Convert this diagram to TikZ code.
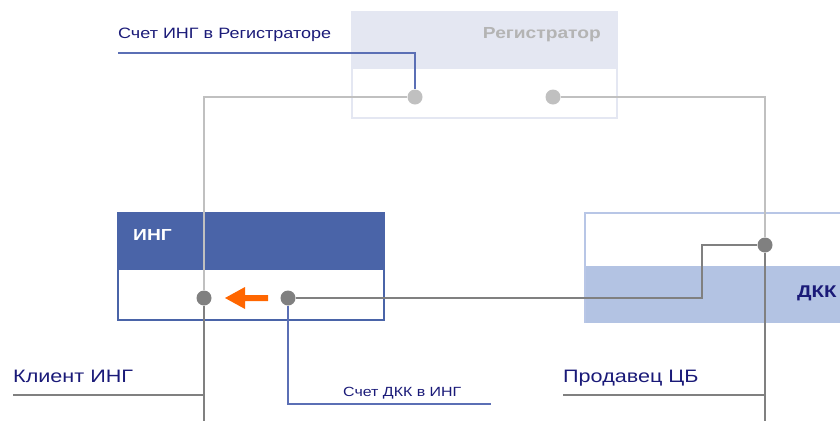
\documentclass[tikz,border=0pt]{standalone}
\usepackage{fontspec}
\setmainfont{Liberation Sans}[FakeStretch=1.2]
\definecolor{navy}{HTML}{1A1A78}
\definecolor{bline}{HTML}{5B6FB5}
\definecolor{ingblue}{HTML}{4A64A8}
\definecolor{dkkfill}{HTML}{B3C3E3}
\definecolor{dkkline}{HTML}{B8C6E6}
\definecolor{reghead}{HTML}{E4E7F2}
\definecolor{regtext}{HTML}{B4B4B4}
\definecolor{lgray}{HTML}{C0C0C0}
\definecolor{dgray}{HTML}{808080}
\definecolor{orng}{HTML}{FF6600}
\begin{document}
\begin{tikzpicture}[x=1pt,y=-1pt,
  ldot/.style={circle,fill=lgray,inner sep=0,minimum size=15pt},
  ddot/.style={circle,fill=dgray,inner sep=0,minimum size=15pt},
  lwire/.style={draw=lgray,line width=2.8pt},
  dwire/.style={draw=dgray,line width=2.8pt},
  bwire/.style={draw=bline,line width=1.6pt},
  lbl/.style={anchor=base west,inner sep=0,text=navy},
]
\useasboundingbox (0,0) rectangle (840,421);
% Registrator box
\fill[reghead] (352,12) rectangle (617,69);
\draw[reghead,line width=1.5pt] (352,12) rectangle (617,118);
\node[anchor=base east,inner sep=0,text=regtext,font=\fontsize{16}{19}\selectfont\bfseries] (regt) at (601,38) {Регистратор};
% ING box
\fill[ingblue] (118,213) rectangle (384,270);
\draw[ingblue,line width=1.5pt] (118,213) rectangle (384,320);
\node[anchor=base west,inner sep=0,text=white,font=\fontsize{16}{19}\selectfont\bfseries] (ingt) at (133,240) {ИНГ};
% DKK box
\fill[dkkfill] (585,266) rectangle (842,323);
\draw[dkkline,line width=1.5pt] (842,213) -- (585,213) -- (585,323);
\node[anchor=base west,inner sep=0,text=navy,font=\fontsize{17}{20}\selectfont\bfseries] (dkkt) at (797,297) {ДКК};
% dots
\node[ldot] (r1) at (415,97) {};
\node[ldot] (r2) at (553,97) {};
\node[ddot] (i1) at (204,298) {};
\node[ddot] (i2) at (288,298) {};
\node[ddot] (d1) at (765,245) {};
\coordinate (bend) at (702,270);
\coordinate (i1b) at (204,421);
\coordinate (d1b) at (765,421);
% labels
\node[lbl,font=\fontsize{15}{18}\selectfont] (l1) at (118,38) {Счет ИНГ в Регистраторе};
\node[lbl,font=\fontsize{18}{21}\selectfont] (l2) at (13,382) {Клиент ИНГ};
\node[lbl,font=\fontsize{18}{21}\selectfont] (l3) at (563,382) {Продавец ЦБ};
\node[lbl,font=\fontsize{13.3}{16}\selectfont] (l4) at (343,396) {Счет ДКК в ИНГ};
\coordinate (l1a) at (118,53);
\coordinate (l2a) at (13,395);
\coordinate (l3a) at (563,395);
\coordinate (l4a) at (491,404);
% wires
\draw[lwire] (r1) -| (i1);
\draw[lwire] (r2) -| (d1);
\draw[dwire] (i2) -| (bend) |- (d1);
\draw[dwire] (i1) -- (i1b);
\draw[dwire] (d1) -- (d1b);
\draw[dwire] (l2a) -- (l2a -| i1b);
\draw[dwire] (l3a) -- (l3a -| d1b);
\draw[bwire] (l1a) -| (r1);
\draw[bwire] (i2) |- (l4a);
% orange arrow
\fill[orng] (225,298) -- (245,287) -- (245,295) -- (268,295) -- (268,301) -- (245,301) -- (245,309) -- cycle;
\end{tikzpicture}
\end{document}
